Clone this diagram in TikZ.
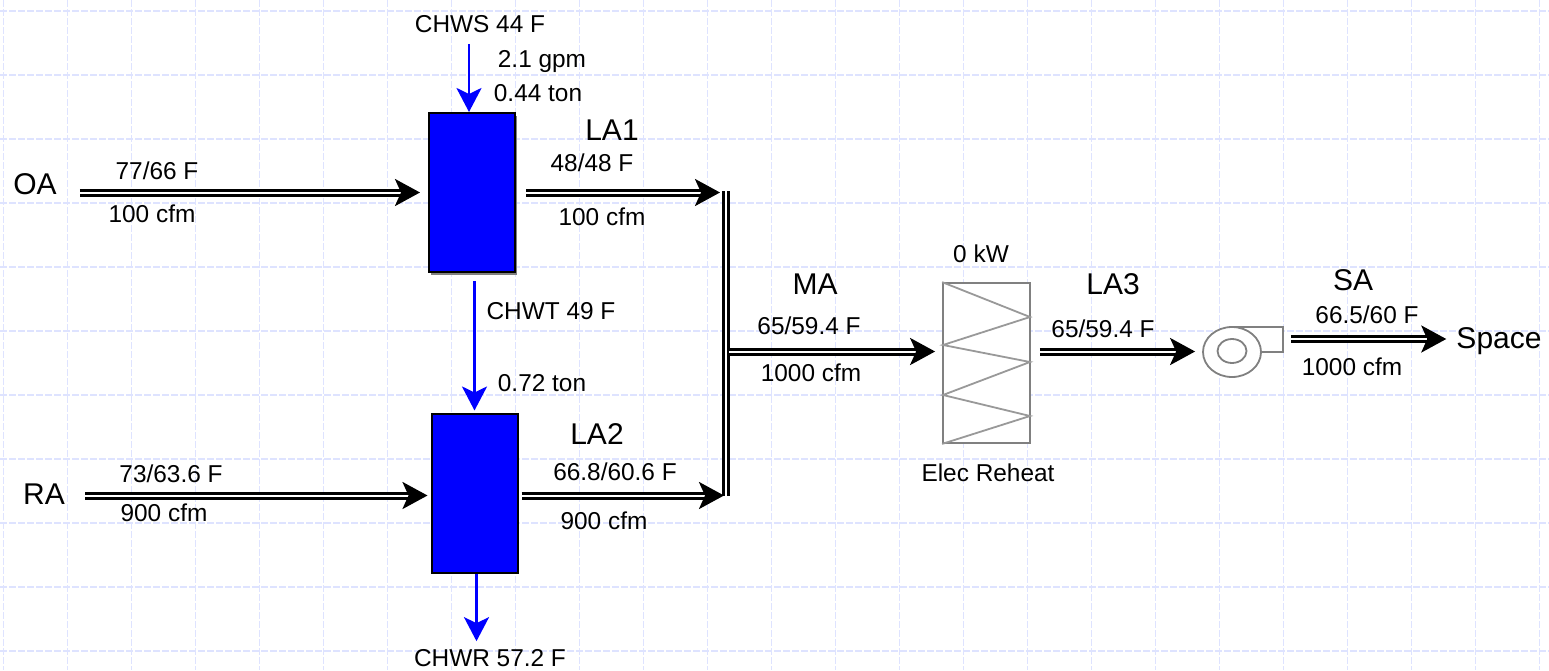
\documentclass[tikz,border=0pt]{standalone}
\usepackage{fontspec}
\setmainfont{Liberation Sans}
\usetikzlibrary{arrows.meta, shapes.geometric, shadows}

\definecolor{gridblue}{rgb}{0.87,0.89,1}

\tikzset{
	gridline/.style = {draw = gridblue, line width = 1.8pt, dash pattern = on 7pt off 2pt},
	flowtext/.style = {inner sep = 0pt, font = \fontsize{24.4}{28}\selectfont},
	streamtext/.style = {inner sep = 0pt, font = \fontsize{30}{34}\selectfont},
	coil/.style = {draw = black, fill = blue, line width = 2pt, minimum width = 86pt, minimum height = 159pt, inner sep = 0pt},
	airline/.style = {draw = black, line width = 3pt, double = white, double distance = 2pt, -{Stealth[length = 25pt, width = 27pt, inset = 6pt]}},
	mixbar/.style = {draw = black, line width = 3pt, double = white, double distance = 2pt},
	waterline/.style = {draw = blue, line width = 2.8pt, -{Stealth[length = 24pt, width = 25pt, inset = 6pt]}},
	unitline/.style = {draw = black!50, line width = 1.8pt}
}

\begin{document}
\begin{tikzpicture}[x = 1pt, y = -1pt]
		\useasboundingbox (0,0) rectangle (1549,670);
		\fill[white] (0,0) rectangle (1549,670);

		\foreach \k in {0,...,24}
		{
			\draw[gridline] (3.5+64*\k,0) -- (3.5+64*\k,670);
		}
		\foreach \k in {0,...,10}
		{
			\draw[gridline] (0,11+64*\k) -- (1549,11+64*\k);
		}

		% cooling coils
		\node[coil, general shadow = {fill = black!50, shadow xshift = 2pt, shadow yshift = -3pt}] (coilA) at (472,192.5) {};
		\node[coil, general shadow = {fill = black!50, shadow xshift = 1.5pt, shadow yshift = -1pt}] (coilB) at (474.5,493) {};

		% reheat and fan
		\node[draw = black!50, fill = white, line width = 1.8pt, minimum width = 87pt, minimum height = 160pt, inner sep = 0pt] (reheat) at (986.5,363) {};
		\draw[unitline, black!40] (reheat.north west) -- (1030,317) -- (943,345) -- (1030,362) -- (943,395) -- (1030,416) -- (reheat.south west);

		\draw[unitline, fill = white] (1232,327) -- (1283,327) -- (1283,352) -- (1255,352);
		\node[unitline, fill = white, ellipse, minimum width = 58pt, minimum height = 50pt, inner sep = 0pt] (fanbody) at (1232,352) {};
		\node[unitline, ellipse, minimum width = 29pt, minimum height = 24pt, inner sep = 0pt] (fanhub) at (1232,351) {};

		% labels
		\node[streamtext] (OA) at (35,184) {OA};
		\node[streamtext] (RA) at (44,494) {RA};
		\node[streamtext] (LAa) at (612,130) {LA1};
		\node[streamtext] (LAb) at (597,434) {LA2};
		\node[streamtext] (MA) at (815,284) {MA};
		\node[streamtext] (LAc) at (1113,284) {LA3};
		\node[streamtext] (SA) at (1353,280) {SA};
		\node[streamtext] (Space) at (1499,341) {Space};

		\node[flowtext] (CHWS) at (480,24) {CHWS 44 F};
		\node[flowtext] (gpm) at (542,62) {2.1 gpm};
		\node[flowtext] (tonA) at (538,93) {0.44 ton};
		\node[flowtext] (CHWT) at (551,311) {CHWT 49 F};
		\node[flowtext] (tonB) at (542,383) {0.72 ton};
		\node[flowtext] (CHWR) at (490,658) {CHWR 57.2 F};

		\node[flowtext] (OAtemp) at (157,171) {77/66 F};
		\node[flowtext] (OAflow) at (152,214) {100 cfm};
		\node[flowtext] (RAtemp) at (171,474) {73/63.6 F};
		\node[flowtext] (RAflow) at (164,513) {900 cfm};
		\node[flowtext] (LAatemp) at (592,163) {48/48 F};
		\node[flowtext] (LAaflow) at (602,217) {100 cfm};
		\node[flowtext] (LAbtemp) at (615,472) {66.8/60.6 F};
		\node[flowtext] (LAbflow) at (604,521) {900 cfm};
		\node[flowtext] (MAtemp) at (809,326) {65/59.4 F};
		\node[flowtext] (MAflow) at (811,373) {1000 cfm};
		\node[flowtext] (power) at (981,254) {0 kW};
		\node[flowtext] (reheatname) at (988,473) {Elec Reheat};
		\node[flowtext] (LActemp) at (1103,329) {65/59.4 F};
		\node[flowtext] (SAtemp) at (1367,315) {66.5/60 F};
		\node[flowtext] (SAflow) at (1352,367) {1000 cfm};

		\coordinate (mixtop) at (725.5,191);
		\coordinate (mixmid) at (725.5,351.5);
		\coordinate (mixbot) at (725.5,495.5);
		\coordinate (fanout) at (1283,339);

		% air
		\draw[mixbar] (mixtop) -- (mixbot);
		\draw[airline, shorten < = 23pt, shorten > = 8pt] (OA.east |- coilA.west) -- (coilA.west);
		\draw[airline, shorten < = 20pt, shorten > = 3pt] (RA.east |- mixbot) -- (coilB.west |- mixbot);
		\draw[airline, shorten < = 10pt, shorten > = 5.5pt] (coilA.east) -- (coilA.east -| mixtop);
		\draw[airline, shorten < = 3pt, shorten > = 1.5pt] (coilB.east |- mixbot) -- (mixbot);
		\draw[airline, shorten < = 3.5pt, shorten > = 7pt] (mixmid) -- (reheat.west |- mixmid);
		\draw[airline, shorten < = 9pt, shorten > = 7pt] (reheat.east |- mixmid) -- (fanbody.west |- mixmid);
		\draw[airline, shorten < = 8pt, shorten > = 10pt] (fanout) -- (fanout -| Space.west);

		% chilled water
		\draw[waterline, shorten < = 11pt] ([xshift = -3pt]coilA.north |- CHWS.south) -- ([xshift = -3pt]coilA.north);
		\draw[waterline, shorten < = 8pt, shorten > = 2pt] (coilB.north |- coilA.south) -- (coilB.north);
		\draw[waterline, shorten > = 8pt] ([xshift = 2pt]coilB.south) -- ([xshift = 2pt]coilB.south |- CHWR.north);
	\end{tikzpicture}
\end{document}
